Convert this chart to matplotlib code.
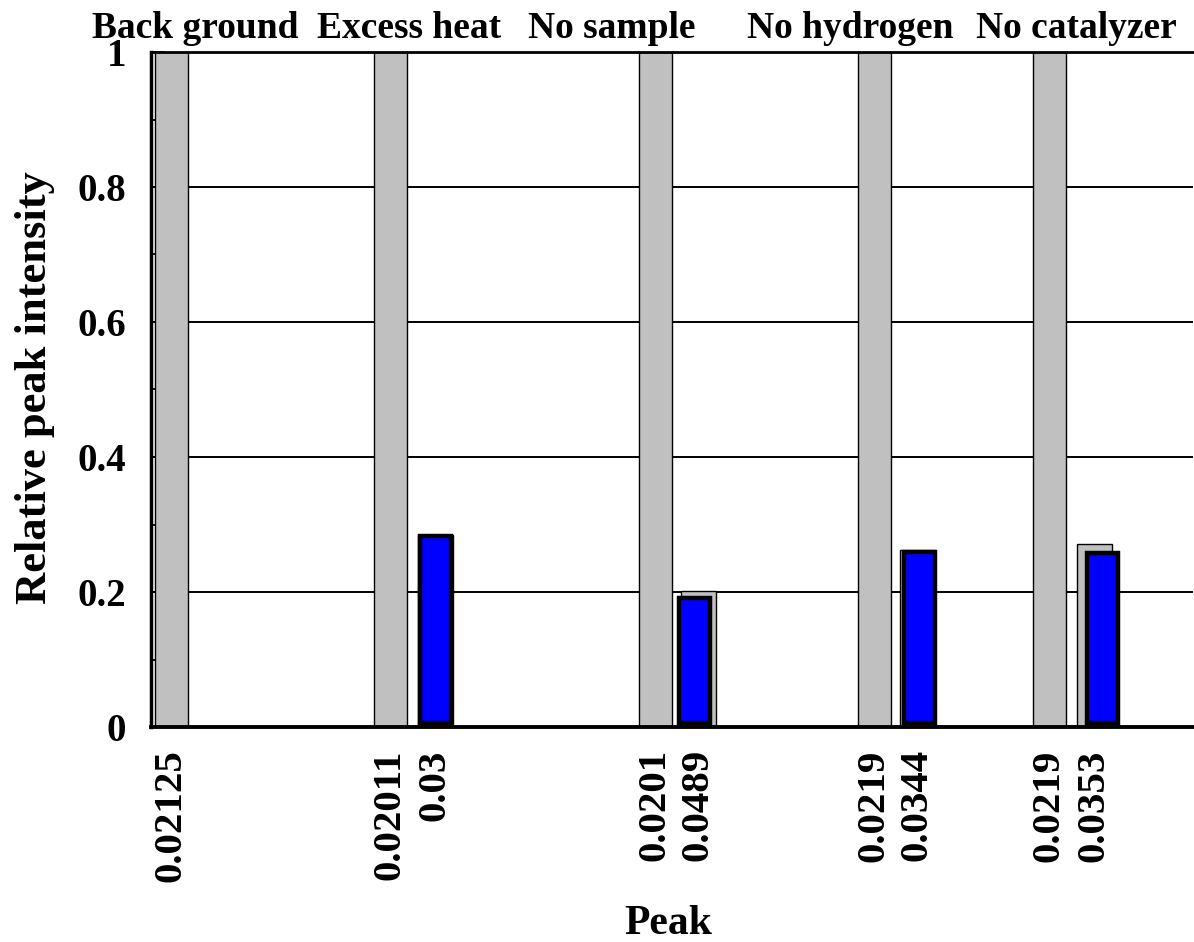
import matplotlib
matplotlib.use("Agg")
import matplotlib.pyplot as plt
from matplotlib.ticker import MultipleLocator

plt.rcParams['font.family'] = ['Liberation Serif', 'DejaVu Serif']
plt.rcParams['font.weight'] = 'bold'

# data
groups = ["Back ground", "Excess heat", "No sample", "No hydrogen", "No catalyzer"]
group_label_x = [44, 258, 461, 699, 925]
first_x = [20, 239, 504, 723, 898]          # reference peak bar of each group
first_h = [1.0, 1.0, 1.0, 1.0, 1.0]
first_lbl = ["0.02125", "0.02011", "0.0201", "0.0219", "0.0219"]

second_x = [284, 547, 766, 943]            # second peak (groups 2..5)
second_gray = [0.284, 0.201, 0.262, 0.271]
second_blue = [0.283, 0.191, 0.259, 0.258]
blue_shift = [0, -4, 2, 8]
blue_base = 0.006
second_lbl = ["0.03", "0.0489", "0.0344", "0.0353"]

W = 33

fig = plt.figure(figsize=(11.94, 9.42), dpi=100)
ax = fig.add_axes([151 / 1194, 1 - 727 / 942, 1042 / 1194, 675 / 942])

# grid behind bars
for g in [0.2, 0.4, 0.6, 0.8]:
    ax.axhline(g, color='black', lw=1.4, zorder=0)

ax.bar(first_x, first_h, width=W, color='#c0c0c0', edgecolor='black', lw=1.0, zorder=2)
ax.bar(second_x, second_gray, width=W + 2, color='#c0c0c0', edgecolor='black', lw=1.0, zorder=2)
bx = [x + s for x, s in zip(second_x, blue_shift)]
bh = [h - blue_base for h in second_blue]
ax.bar(bx, bh, bottom=blue_base, width=W - 2, color='#0000ff', edgecolor='black', lw=3.2, zorder=3)

ax.set_xlim(0, 1042)
ax.set_ylim(0, 1)

ticks_x = first_x + second_x
ticks_l = first_lbl + second_lbl
ax.set_xticks(ticks_x)
ax.set_xticklabels(ticks_l, rotation=90, fontsize=29.5, fontweight='bold')
ax.tick_params(axis='x', length=0, pad=16)

ax.set_yticks([0, 0.2, 0.4, 0.6, 0.8, 1.0])
ax.set_yticklabels(["0", "0.2", "0.4", "0.6", "0.8", "1"], fontsize=28, fontweight='bold')
ax.yaxis.set_minor_locator(MultipleLocator(0.1))
ax.tick_params(axis='y', which='major', direction='in', length=10, width=1.3, pad=18)
ax.tick_params(axis='y', which='minor', direction='in', length=4.5, width=1.3)

ax.spines['right'].set_visible(False)
ax.spines['left'].set_linewidth(2.5)
ax.spines['bottom'].set_linewidth(2.8)
ax.spines['top'].set_linewidth(2.0)

for name, gx in zip(groups, group_label_x):
    ax.text(gx, 1.021, name, transform=ax.get_xaxis_transform(), ha='center', va='baseline',
            fontsize=27, fontweight='bold', clip_on=False)

fig.text(668 / 1194, 8 / 942, "Peak", ha='center', va='baseline', fontsize=30, fontweight='bold')
fig.text(35 / 1194, 1 - 388 / 942, "Relative peak intensity", ha='center', va='center',
         rotation=90, fontsize=32, fontweight='bold')

fig.savefig("out.png", dpi=100)
